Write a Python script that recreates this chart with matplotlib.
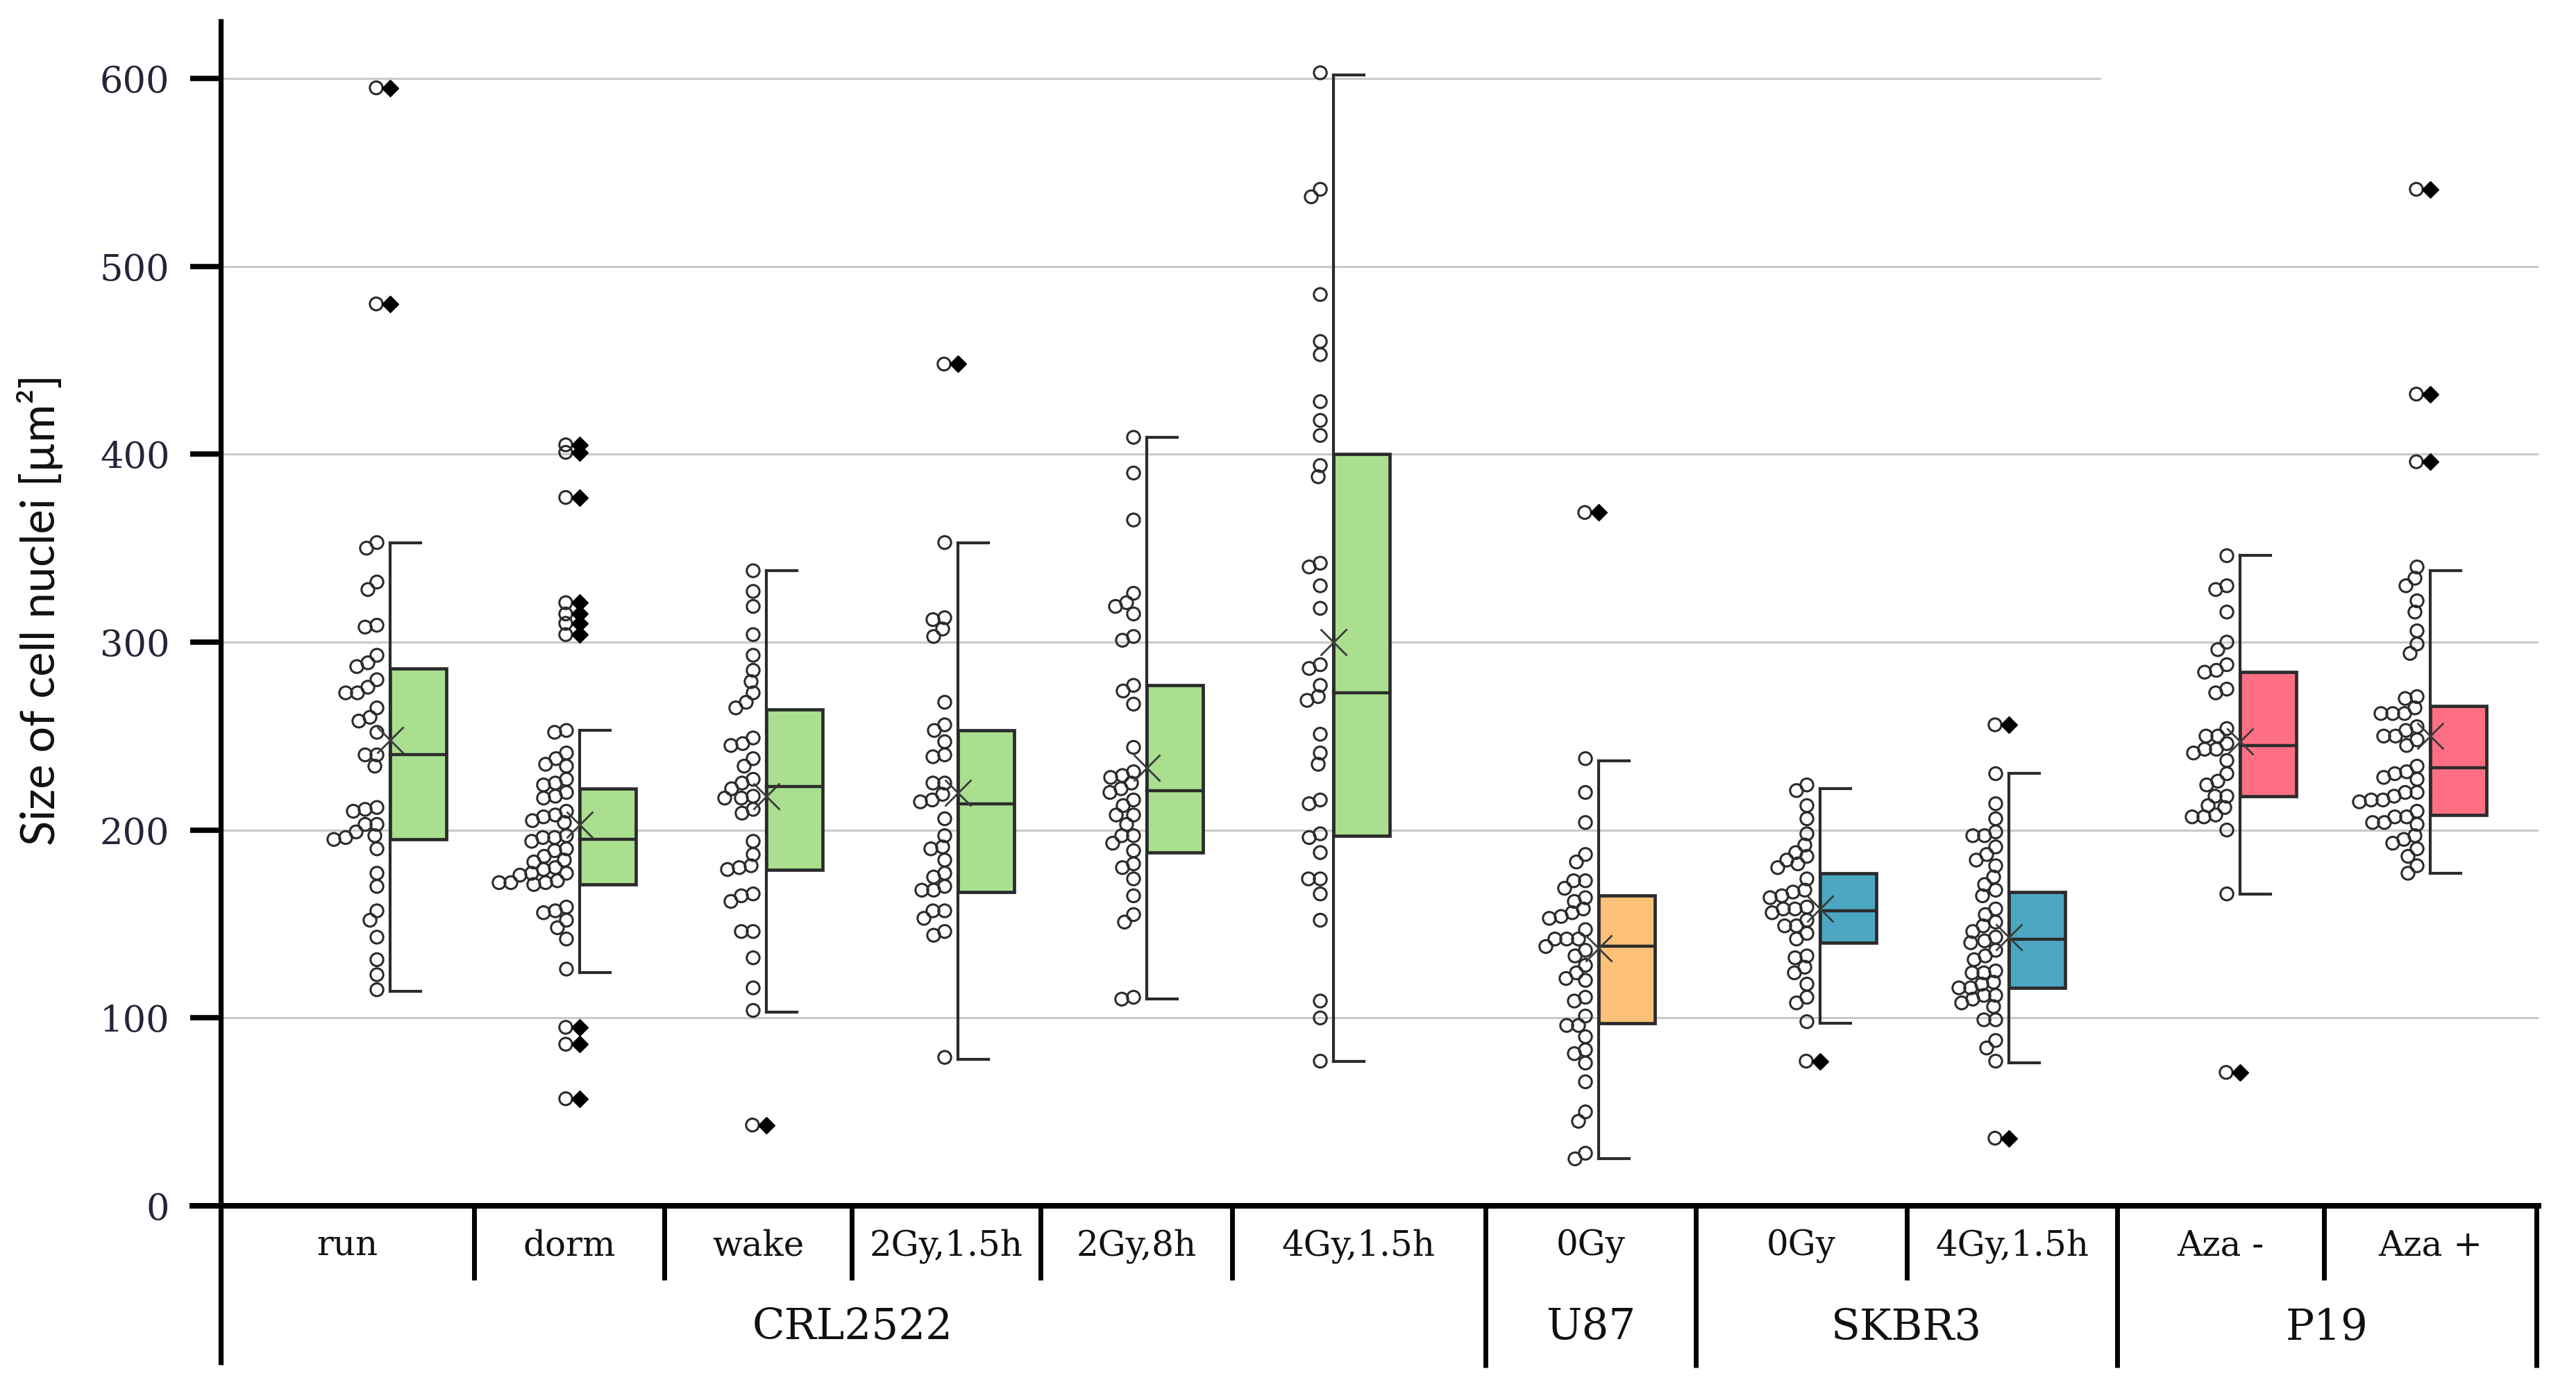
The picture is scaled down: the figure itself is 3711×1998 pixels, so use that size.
import matplotlib
matplotlib.use('Agg')
import matplotlib.pyplot as plt
from matplotlib.patches import Rectangle
import numpy as np

# ---------------- data ----------------
categories = ['run', 'dorm', 'wake', '2Gy,1.5h', '2Gy,8h', '4Gy,1.5h',
              '0Gy', '0Gy', '4Gy,1.5h', 'Aza -', 'Aza +']
cell_lines = ['CRL2522', 'U87', 'SKBR3', 'P19']
cell_line_sizes = [6, 1, 2, 2]
yticks = [0, 100, 200, 300, 400, 500, 600]

whisker_low = [114, 124, 103, 78, 110, 77, 25, 97, 76, 166, 177]
q1 = [195, 171, 179, 167, 188, 197, 97, 140, 116, 218, 208]
median = [240, 195, 223, 214, 221, 273, 138, 157, 142, 245, 233]
q3 = [286, 222, 264, 253, 277, 400, 165, 177, 167, 284, 266]
whisker_high = [353, 253, 338, 353, 409, 602, 237, 222, 230, 346, 338]
means = [248, 203, 218, 220, 233, 300, 137, 158, 143, 247, 250]

outliers = [
    [595, 480],
    [405, 401, 377, 321, 315, 310, 304, 95, 86, 57],
    [43],
    [448],
    [],
    [],
    [369],
    [77],
    [256, 36],
    [71],
    [541, 432, 396],
]

run_pts = [353, 350, 332, 328, 309, 308, 293, 289, 287, 280, 276, 273, 273,
           265, 260, 258, 252, 240, 240, 234, 212, 211, 210, 203, 203, 199,
           197, 196, 195, 190, 177, 170, 157, 152, 143, 131, 123, 115]
dorm_pts = [253, 252, 241, 238, 235, 234, 227, 225, 224, 220, 218, 217, 210,
            208, 207, 205, 204, 197, 196, 196, 194, 190, 189, 186, 184, 183,
            180, 179, 177, 177, 176, 173, 172, 172, 172, 171, 159, 157, 156,
            152, 148, 142, 126]
wake_pts = [338, 327, 319, 304, 293, 285, 279, 273, 268, 265, 249, 246, 245,
            238, 234, 227, 225, 222, 218, 217, 217, 211, 209, 194, 187, 181,
            180, 179, 166, 165, 162, 146, 146, 132, 116, 104]
gy2_15_pts = [353, 313, 312, 307, 303, 268, 256, 253, 247, 240, 239, 225, 225,
              219, 216, 215, 206, 197, 191, 190, 184, 177, 175, 170, 168, 168,
              157, 157, 153, 146, 144, 79]
gy2_8_pts = [409, 390, 365, 326, 321, 319, 315, 303, 301, 277, 274, 267, 244,
             231, 229, 228, 225, 222, 220, 216, 213, 208, 208, 203, 197, 197,
             193, 189, 182, 180, 174, 165, 155, 151, 111, 110]
gy4_15_pts = [603, 541, 537, 485, 460, 453, 428, 418, 410, 394, 388, 342, 340,
              330, 318, 288, 286, 277, 271, 269, 251, 241, 235, 216, 214, 198,
              196, 188, 174, 174, 166, 152, 109, 100, 77]
u87_pts = [238, 220, 204, 187, 183, 173, 173, 169, 164, 162, 158, 156, 154,
           153, 147, 142, 142, 142, 138, 136, 133, 128, 124, 121, 120, 111,
           109, 101, 96, 96, 90, 83, 81, 76, 66, 50, 45, 28, 25]
skbr3_0_pts = [224, 221, 213, 206, 198, 192, 188, 186, 184, 182, 180, 174,
               168, 167, 165, 164, 159, 158, 158, 156, 152, 149, 149, 145,
               142, 133, 132, 127, 124, 118, 111, 108, 98]
skbr3_4_pts = [230, 214, 206, 199, 197, 197, 191, 187, 184, 181, 175, 171,
               168, 165, 158, 155, 151, 149, 146, 143, 141, 140, 136, 133,
               131, 125, 124, 124, 119, 118, 116, 116, 112, 112, 110, 108,
               106, 99, 99, 88, 84, 77]
aza_minus_pts = [346, 330, 328, 316, 300, 296, 288, 285, 284, 275, 273, 254,
                 250, 250, 246, 243, 243, 241, 237, 230, 226, 224, 218, 218,
                 213, 212, 208, 207, 207, 200, 166]
aza_plus_pts = [340, 334, 330, 322, 316, 306, 299, 294, 271, 270, 265, 262,
                262, 262, 255, 253, 250, 250, 248, 245, 234, 231, 230, 228,
                227, 220, 220, 218, 216, 216, 215, 210, 207, 207, 204, 204,
                203, 197, 195, 193, 190, 186, 181, 177]

points = [run_pts, dorm_pts, wake_pts, gy2_15_pts, gy2_8_pts, gy4_15_pts,
          u87_pts, skbr3_0_pts, skbr3_4_pts, aza_minus_pts, aza_plus_pts]

box_colors = ['#a9df8f'] * 6 + ['#fcc076'] + ['#4ca7c2'] * 2 + ['#ff6f84'] * 2

# ---------------- layout (figure pixels) ----------------
W, H = 3711, 1998
AX_L, AX_R, AX_TOP, Y0 = 318, 3660, 27, 1737
PX_PER_UNIT = 2.7067
cell_edges = [317, 683, 957, 1227, 1499, 1775, 2140, 2443, 2747, 3050, 3348, 3654]
whisker_x = [562, 835, 1104, 1380, 1652, 1921, 2303, 2622, 2894, 3227, 3501]
BOX_W = 81
CAP_W = 44


def yv(ypix):
    return (Y0 - ypix) / PX_PER_UNIT


fig = plt.figure(figsize=(W / 100, H / 100), dpi=100)
ax = fig.add_axes([AX_L / W, 1 - Y0 / H, (AX_R - AX_L) / W, (Y0 - AX_TOP) / H])
ax.set_xlim(AX_L, AX_R)
ax.set_ylim(0, yv(AX_TOP))
for s in ax.spines.values():
    s.set_visible(False)
ax.set_xticks([])
ax.set_yticks(yticks)
ax.set_yticklabels([str(t) for t in yticks], family='DejaVu Serif',
                   fontsize=38, color='#24243a')
ax.tick_params(axis='y', length=32, width=5.5, pad=21, color='black')

# gridlines
for t in yticks[1:]:
    xend = 3026 if t == 600 else 3657
    ax.plot([AX_L, xend], [t, t], color='#c9c9c9', lw=2.2, zorder=0,
            solid_capstyle='butt')

# axes lines
ax.plot([AX_L, AX_L], [yv(1966), yv(AX_TOP)], color='black', lw=5.2,
        clip_on=False, zorder=6, solid_capstyle='butt')
ax.plot([273, 3661], [0, 0], color='black', lw=5.8, clip_on=False, zorder=6,
        solid_capstyle='butt')

# category table
group_edges = set()
acc = 0
for n in cell_line_sizes:
    acc += n
    group_edges.add(acc)
for i, xe in enumerate(cell_edges[1:], start=1):
    bottom = 1970 if i in group_edges else 1844
    ax.plot([xe, xe], [0, yv(bottom)], color='black', lw=5, clip_on=False,
            solid_capstyle='butt')
for i, lab in enumerate(categories):
    xc = (cell_edges[i] + cell_edges[i + 1]) / 2
    ax.text(xc, yv(1795), lab, ha='center', va='center', family='DejaVu Serif',
            fontsize=36, color='#111111', clip_on=False)
start = 0
for name, n in zip(cell_lines, cell_line_sizes):
    xc = (cell_edges[start] + cell_edges[start + n]) / 2
    ax.text(xc, yv(1912), name, ha='center', va='center', family='DejaVu Serif',
            fontsize=44, color='#111111', clip_on=False)
    start += n

fig.text(58 / W, 1 - 878 / H, 'Size of cell nuclei [µm²]', rotation=90,
         ha='center', va='center', fontsize=48, family=['Lato', 'DejaVu Sans'],
         color='#111111')


# half-beeswarm to the left of the whisker
def swarm(vals, x0, dmin=16.5, start_off=19):
    placed = []
    xs = []
    for v in vals:
        y = v * PX_PER_UNIT
        x = x0 - start_off
        while any((x - px) ** 2 + (y - py) ** 2 < dmin ** 2 for px, py in placed):
            x -= 1
        placed.append((x, y))
        xs.append(x)
    return xs


edge = '#2b2b2b'
for i in range(len(categories)):
    xw = whisker_x[i]
    # whisker
    ax.plot([xw, xw], [whisker_low[i], whisker_high[i]], color=edge, lw=3.0,
            zorder=2)
    for yc in (whisker_low[i], whisker_high[i]):
        ax.plot([xw, xw + CAP_W], [yc, yc], color=edge, lw=3.0, zorder=2)
    ax.add_patch(Rectangle((xw, q1[i]), BOX_W, q3[i] - q1[i],
                           facecolor=box_colors[i], edgecolor=edge, lw=3.4,
                           zorder=3))
    ax.plot([xw, xw + BOX_W], [median[i], median[i]], color=edge, lw=3.2,
            zorder=4)
    # points
    xs = swarm(points[i], xw)
    ax.scatter(xs, points[i], s=175, facecolors='none', edgecolors=edge,
               linewidths=2.2, zorder=5)
    if outliers[i]:
        ax.scatter([xw - 20] * len(outliers[i]), outliers[i], s=175,
                   facecolors='none', edgecolors=edge, linewidths=2.2, zorder=5)
        ax.plot([xw] * len(outliers[i]), outliers[i], 'D', color='black',
                ms=12, zorder=6, linestyle='none')
    ax.plot([xw], [means[i]], 'x', color='#3a3a3a', ms=27, mew=2.0, zorder=7)

fig.savefig('out.png', dpi=100, facecolor='white')
